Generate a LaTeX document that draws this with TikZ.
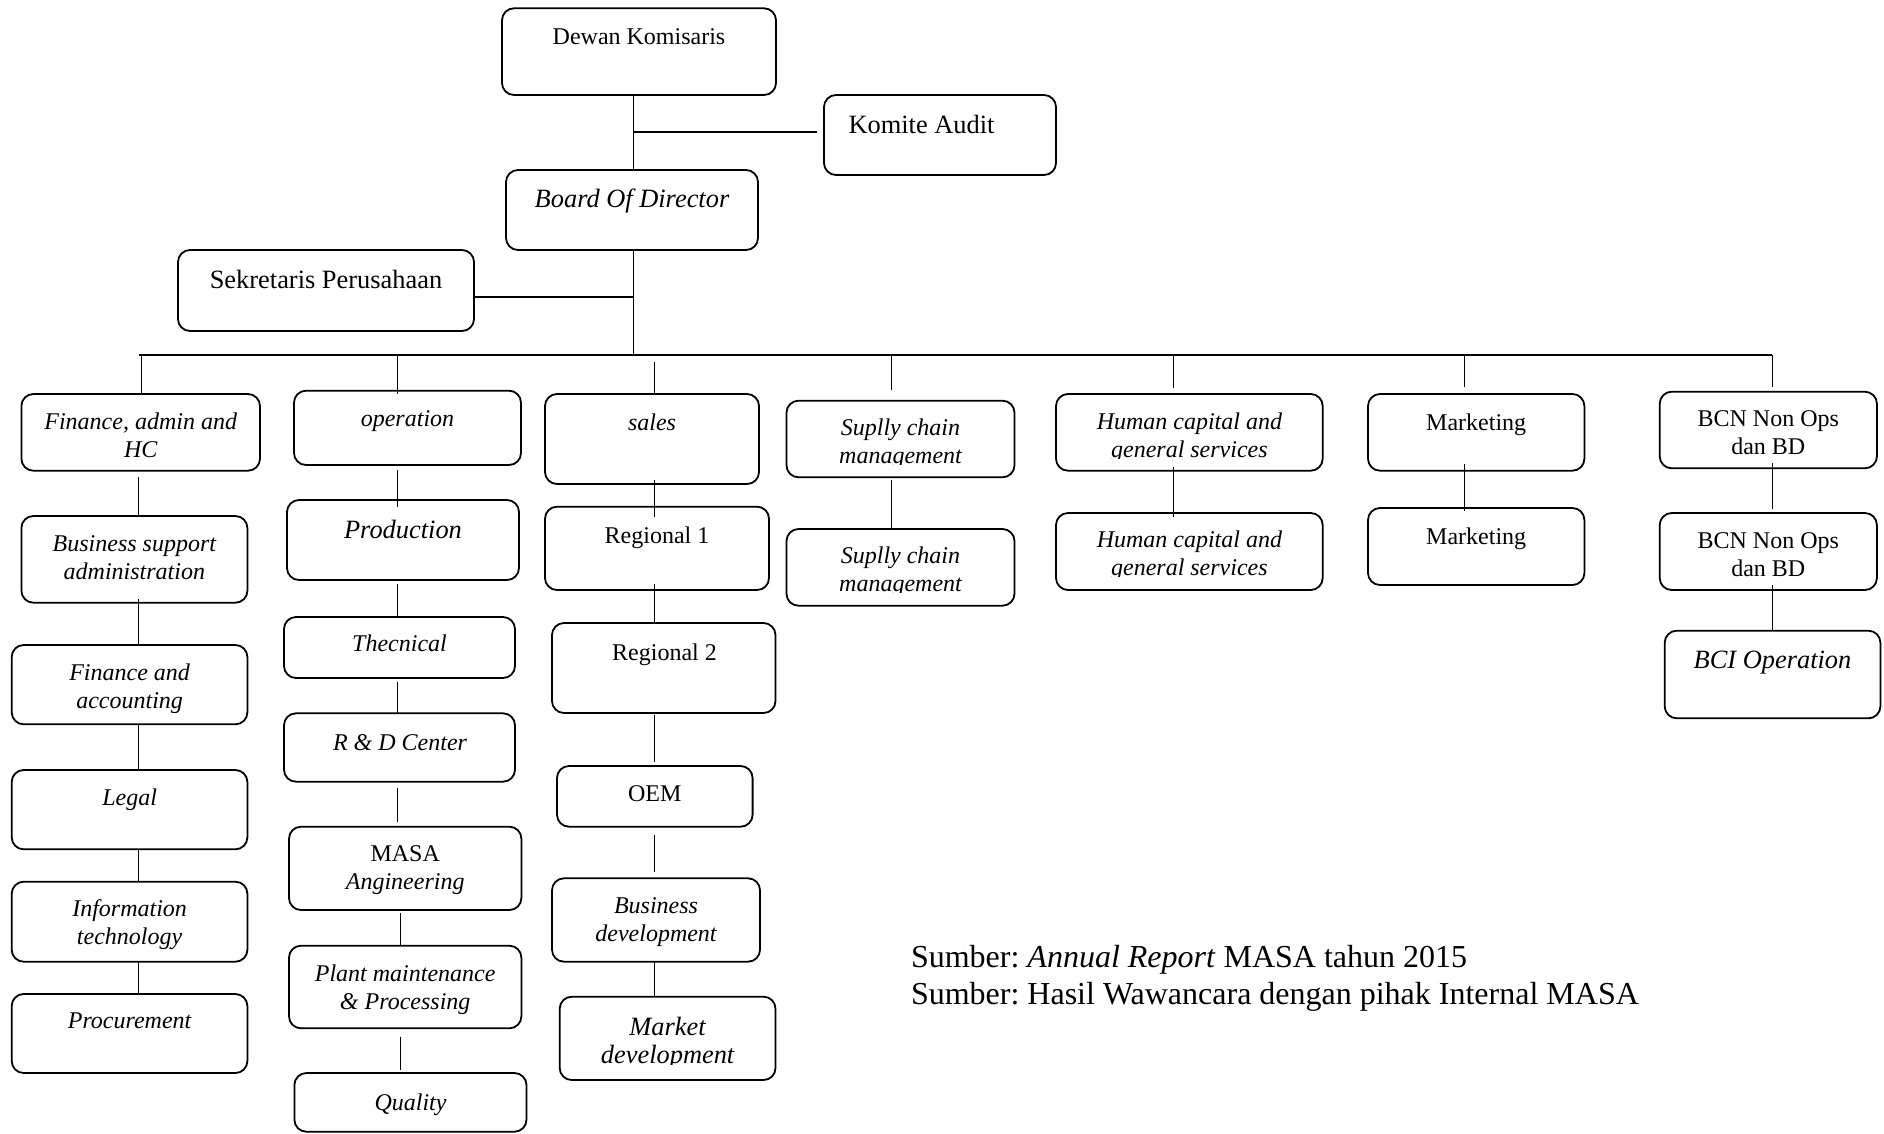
\documentclass[tikz,border=0pt]{standalone}
\usepackage{fontspec}
\setmainfont{Liberation Serif}
\usetikzlibrary{calc}
\frenchspacing
\tikzset{
 box/.style={draw, line width=1.8pt, rounded corners=12pt, inner sep=0pt, outer sep=0pt},
 conn/.style={draw, line width=1.4pt},
 txt/.style={anchor=base, inner sep=0pt, outer sep=0pt},
 fs/.style={font=\fontsize{24}{28}\selectfont},
 fi/.style={font=\fontsize{24}{28}\selectfont\itshape},
 fl/.style={font=\fontsize{26.4}{28.3}\selectfont},
 fli/.style={font=\fontsize{26.4}{28.3}\selectfont\itshape},
 ff/.style={font=\fontsize{32}{36.5}\selectfont},
}
\newcommand\bx[5]{\node[box, minimum width={(#4)-(#2)}, minimum height={(#5)-(#3)}] (#1) at ({((#2)+(#4))/2},{((#3)+(#5))/2}) {};}
\newcommand\tx[5]{\node[txt, #4] (#1) at (#2,#3) {\begin{tabular}[t]{@{}c@{}}#5\end{tabular}};}
\newcommand\lnk[5]{\draw[conn] ($(#1.south -| #3)+(0,#4)$) -- ($(#2.north -| #3)+(0,#5)$);}
\begin{document}
\begin{tikzpicture}[x=1pt,y=-1pt]
\useasboundingbox (0,0) rectangle (1884,1133);
% column coordinates
\coordinate (tk) at (633.5,0);
\coordinate (c1) at (138.5,0);
\coordinate (c2) at (397.5,0);
\coordinate (c2b) at (400.5,0);
\coordinate (c3) at (654.6,0);
\coordinate (c4) at (891.2,0);
\coordinate (c5) at (1173.6,0);
\coordinate (c6) at (1464.7,0);
\coordinate (c7) at (1772.2,0);
\coordinate (busL) at (139,355);
\coordinate (bj) at (633.5,355);
\coordinate (d1) at (141.7,355);
\coordinate (d2) at (397.5,355);
\coordinate (d3) at (654.6,355);
\coordinate (d4) at (891.2,355);
\coordinate (d5) at (1173.6,355);
\coordinate (d6) at (1464.7,355);
\coordinate (d7) at (1772.2,355);
% top
\bx{dk}{502}{8.3}{776}{95}
\tx{tdk}{639}{44}{fs}{Dewan Komisaris}
\bx{ka}{824}{95}{1056}{175}
\tx{tka}{921.5}{133.3}{fl}{Komite Audit}
\bx{bod}{506}{170}{758}{250}
\tx{tbod}{632}{207.3}{fli}{Board Of Director}
\bx{sp}{178}{250}{474}{331}
\tx{tsp}{326}{288.3}{fl}{Sekretaris Perusahaan}
% row 1
\bx{fa}{21.4}{394}{260}{470.7}
\tx{tfa}{140.7}{429}{fi}{Finance, admin and\\HC}
\bx{op}{294}{390.7}{521}{465}
\tx{top}{407.5}{426.7}{fi}{operation}
\bx{sa}{545}{394}{759}{484}
\tx{tsa}{652}{430}{fi}{sales}
\bx{sc1}{786.5}{400.7}{1014.5}{477.3}
\begin{scope}\clip (786.5,400) rectangle (1014.5,464.5);
\tx{tsc1}{900.5}{435}{fi}{Suplly chain\\management}
\end{scope}
\bx{hc1}{1056}{394}{1322.7}{470.7}
\begin{scope}\clip (1056,394) rectangle (1322.7,458.5);
\tx{thc1}{1189.4}{429}{fi}{Human capital and\\general services}
\end{scope}
\bx{mk1}{1368}{394}{1584.4}{470.7}
\tx{tmk1}{1476.2}{430}{fs}{Marketing}
\bx{bc1}{1659.7}{391.7}{1876.9}{468.3}
\tx{tbc1}{1768.3}{426.7}{fs}{BCN Non Ops\\dan BD}
% row 2
\bx{bs}{21.4}{516}{247.4}{602.7}
\tx{tbs}{134.4}{551.7}{fi}{Business support\\administration}
\bx{pr}{287}{500}{519}{580}
\tx{tpr}{403}{538}{fli}{Production}
\bx{r1}{545}{506.7}{769}{590}
\tx{tr1}{657}{543}{fs}{Regional 1}
\bx{sc2}{786.5}{529}{1014.5}{605.7}
\begin{scope}\clip (786.5,529) rectangle (1014.5,592.8);
\tx{tsc2}{900.5}{563.3}{fi}{Suplly chain\\management}
\end{scope}
\bx{hc2}{1056}{513}{1322.7}{590}
\begin{scope}\clip (1056,513) rectangle (1322.7,576.5);
\tx{thc2}{1189.4}{547}{fi}{Human capital and\\general services}
\end{scope}
\bx{mk2}{1368}{508}{1584.4}{585}
\tx{tmk2}{1476.2}{544}{fs}{Marketing}
\bx{bc2}{1659.7}{513}{1876.9}{590}
\tx{tbc2}{1768.3}{548.3}{fs}{BCN Non Ops\\dan BD}
% further rows
\bx{fac}{11.7}{645}{247.4}{724.3}
\tx{tfac}{129.6}{680}{fi}{Finance and\\accounting}
\bx{te}{284}{617}{515}{678}
\tx{tte}{399.5}{651.7}{fi}{Thecnical}
\bx{r2}{552}{623}{775.5}{713}
\tx{tr2}{664.5}{660}{fs}{Regional 2}
\bx{bci}{1664.7}{630.7}{1880.4}{718.3}
\tx{tbci}{1772.5}{668.3}{fli}{BCI Operation}
\bx{rd}{284}{713.3}{515}{781.7}
\tx{trd}{400}{750}{fi}{R \& D Center}
\bx{lg}{11.7}{770}{247.4}{849.3}
\tx{tlg}{129.6}{805}{fi}{Legal}
\bx{oem}{557}{766}{752.6}{826.7}
\tx{toem}{654.8}{801.7}{fs}{OEM}
\bx{ma}{289}{826.7}{521.4}{910}
\tx{tma}{405.2}{861.7}{fs}{MASA\\\textit{Angineering}}
\bx{it}{11.7}{881.7}{247.4}{961.7}
\tx{tit}{129.6}{916.7}{fi}{Information\\technology}
\bx{bd}{552}{878.3}{760}{961.7}
\tx{tbd}{656}{913.3}{fi}{Business\\development}
\bx{pl}{289}{945.7}{521.4}{1028.3}
\tx{tpl}{405.2}{981.7}{fi}{Plant maintenance\\\& Processing}
\bx{pc}{11.7}{994}{247.4}{1073}
\tx{tpc}{129.6}{1028}{fi}{Procurement}
\bx{md}{559.7}{996.7}{775.5}{1080}
\begin{scope}\clip (559.7,996.7) rectangle (775.5,1064.5);
\tx{tmd}{667.6}{1035}{fli}{Market\\development}
\end{scope}
\bx{qu}{294.4}{1073}{526.5}{1131.7}
\tx{tqu}{410.5}{1110}{fi}{Quality}
% footer
\node[txt, ff, anchor=base west] (src1) at (911,967.5) {Sumber: \textit{Annual Report} MASA tahun 2015};
\node[txt, ff, anchor=base west] (src2) at (911,1004) {Sumber: Hasil Wawancara dengan pihak Internal MASA};
% top connectors
\draw[conn] (dk.south -| tk) -- (bod.north -| tk);
\draw[conn] ($(ka.west -| tk)+(0,-3)$) -- ($(ka.west)+(-7,-3)$);
\draw[conn] (bod.south -| bj) -- (bj);
\draw[conn] ($(sp.east)+(0,6.5)$) -- ($(sp.east -| tk)+(0,6.5)$);
\draw[conn] (busL) -- (d7);
% drops
\draw[conn] (d1) -- (d1 |- fa.north);
\draw[conn] (d2) -- ($(d2 |- op.north)+(0,3.3)$);
\draw[conn] ($(d3)+(0,7)$) -- (d3 |- sa.north);
\draw[conn] (d4) -- ($(d4 |- sc1.north)+(0,-10.7)$);
\draw[conn] (d5) -- ($(d5 |- hc1.north)+(0,-6)$);
\draw[conn] (d6) -- ($(d6 |- mk1.north)+(0,-7)$);
\draw[conn] (d7) -- ($(d7 |- bc1.north)+(0,-5)$);
% column 1
\lnk{fa}{bs}{c1}{6.3}{0}
\lnk{bs}{fac}{c1}{-3.7}{0}
\lnk{fac}{lg}{c1}{0}{0}
\lnk{lg}{it}{c1}{0}{0}
\lnk{it}{pc}{c1}{0}{0}
% column 2
\lnk{op}{pr}{c2}{5}{7}
\lnk{pr}{te}{c2}{4}{0}
\lnk{te}{rd}{c2}{3.7}{0}
\lnk{rd}{ma}{c2}{6.3}{-4.7}
\lnk{ma}{pl}{c2b}{2.7}{0}
\lnk{pl}{qu}{c2b}{8.4}{-3}
% column 3
\lnk{sa}{r1}{c3}{-4}{10.3}
\lnk{r1}{r2}{c3}{-6}{0}
\lnk{r2}{oem}{c3}{2}{-4}
\lnk{oem}{bd}{c3}{8.3}{-6.6}
\lnk{bd}{md}{c3}{0}{0}
% other columns
\lnk{sc1}{sc2}{c4}{2.7}{0}
\lnk{hc1}{hc2}{c5}{-3.7}{3.7}
\lnk{mk1}{mk2}{c6}{-6.7}{2.7}
\lnk{bc1}{bc2}{c7}{-5.3}{-4}
\lnk{bc2}{bci}{c7}{-5}{0}
\end{tikzpicture}
\end{document}
